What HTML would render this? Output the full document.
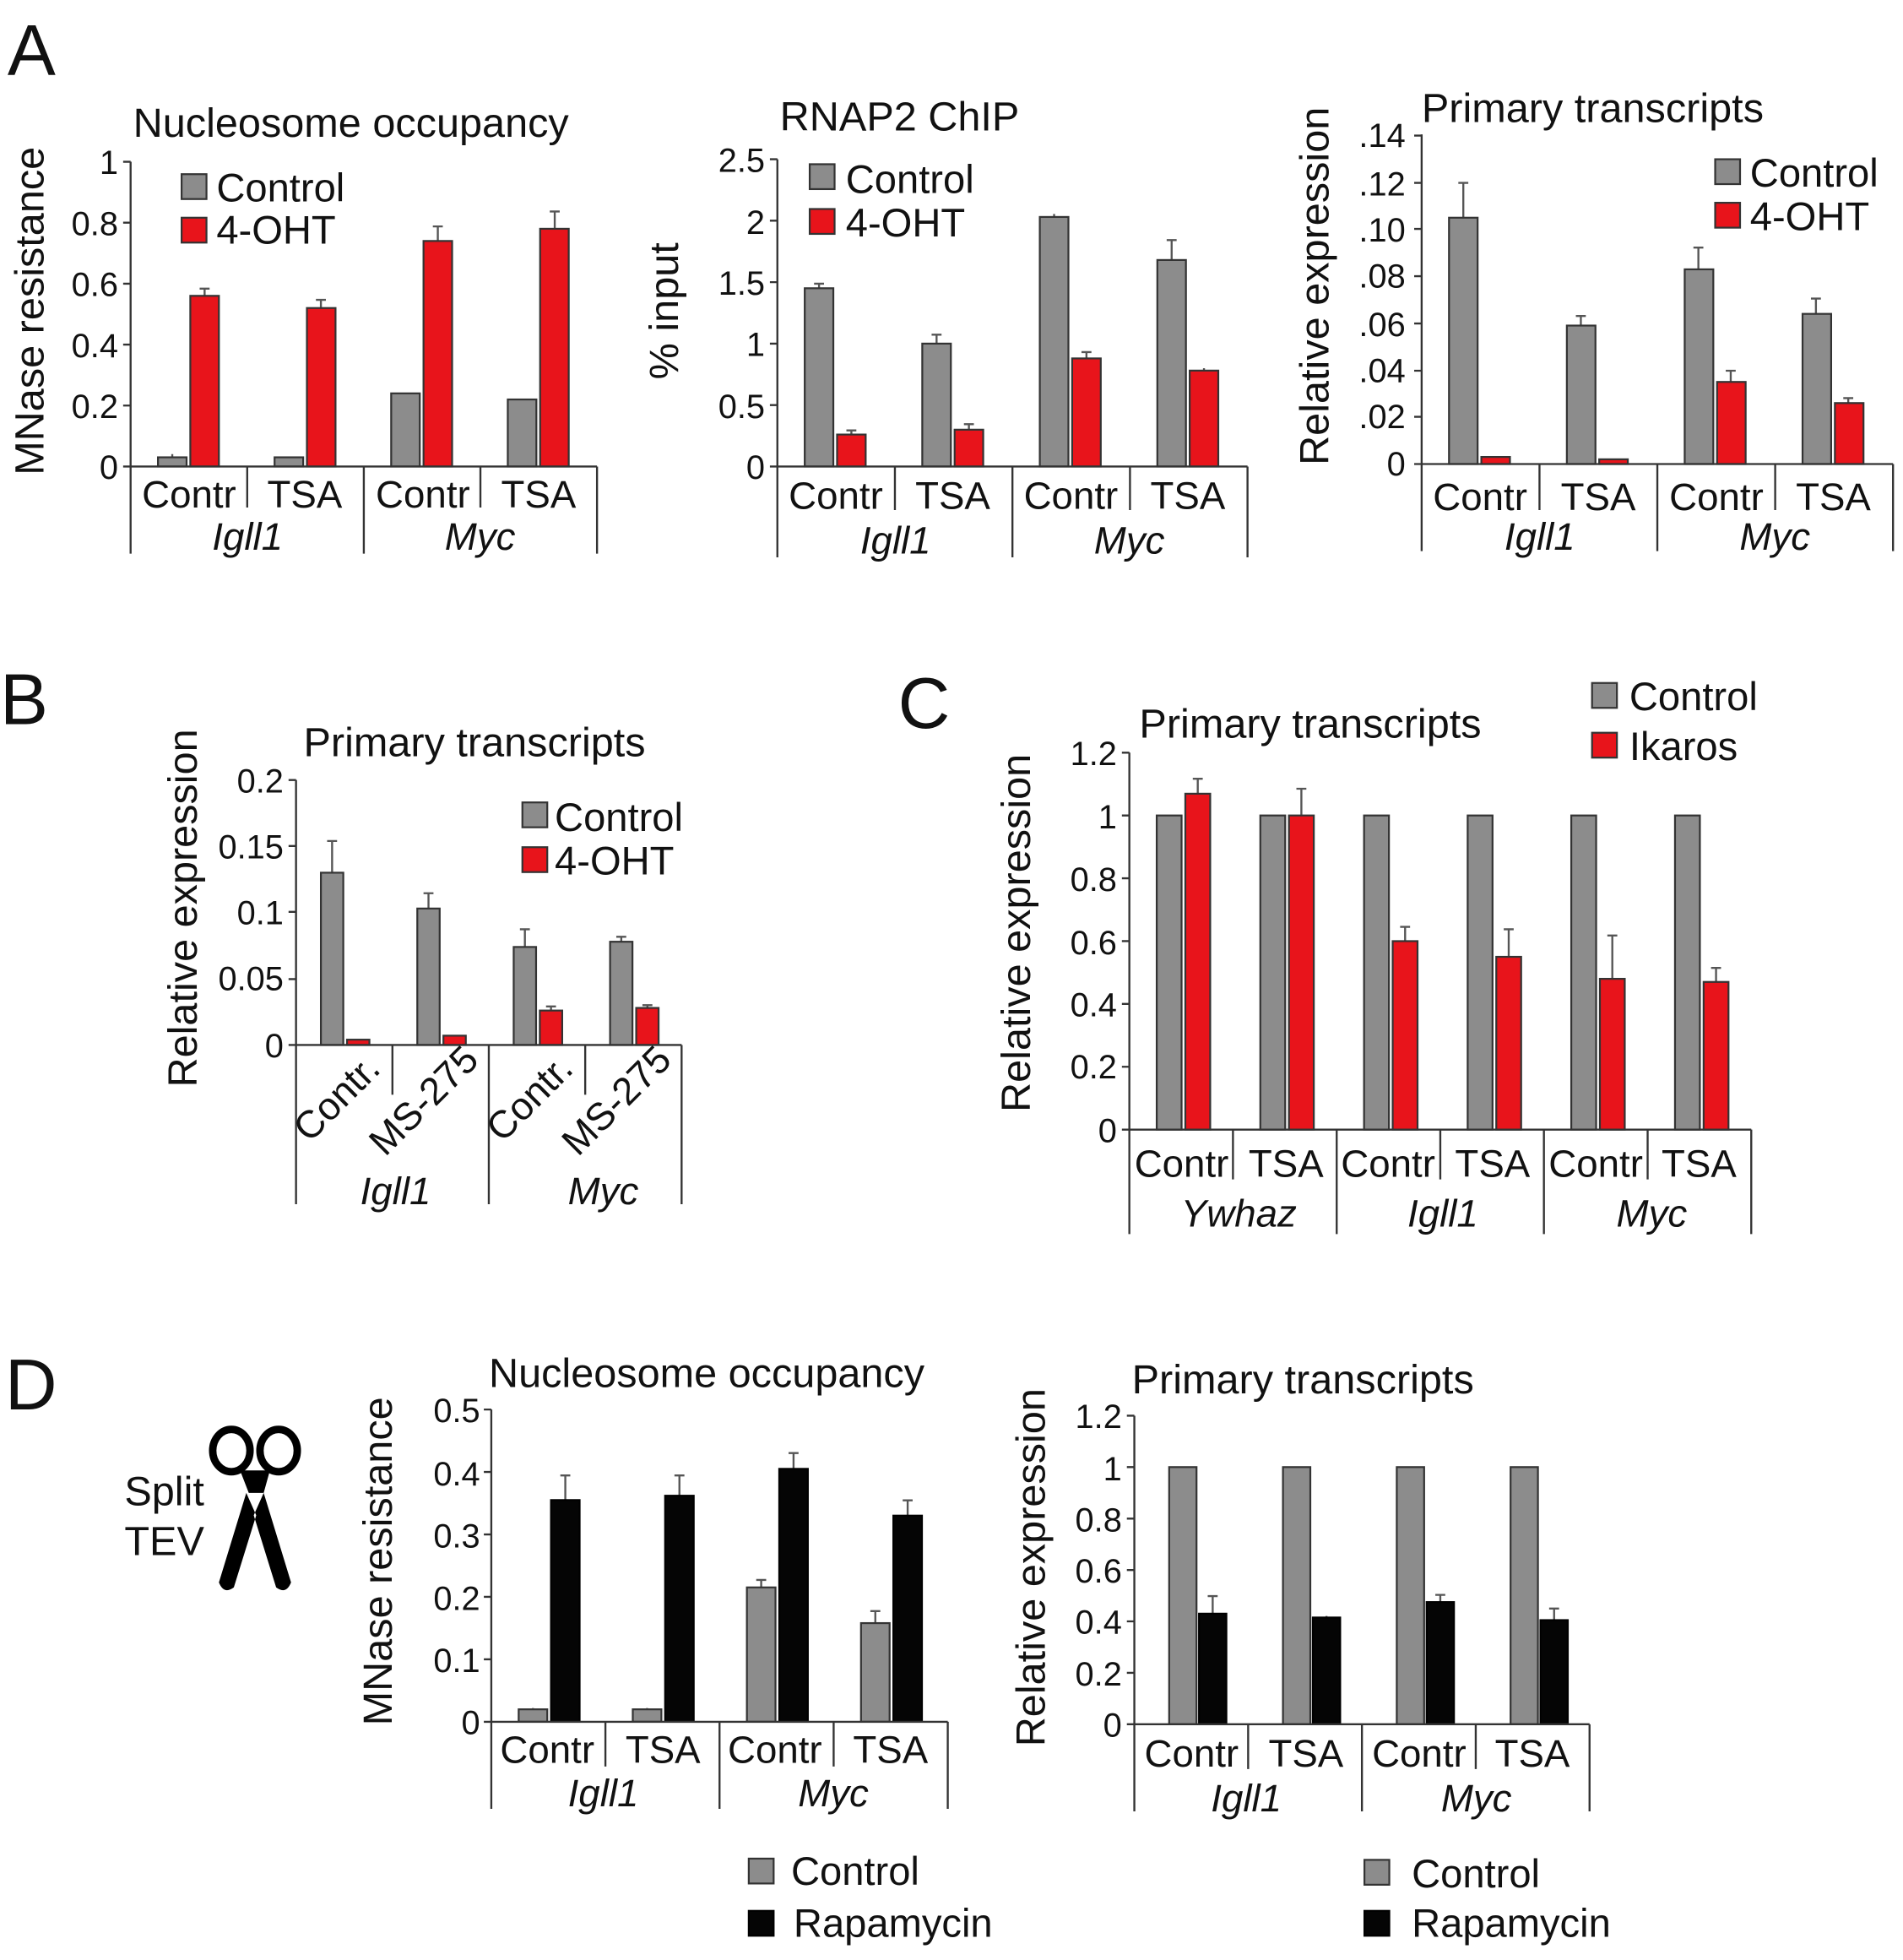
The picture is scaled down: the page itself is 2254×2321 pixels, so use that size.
<!DOCTYPE html>
<html><head><meta charset="utf-8"><style>
html,body{margin:0;padding:0;background:#fff}
svg{display:block}
text{font-family:"Liberation Sans",sans-serif;fill:#111}
.t{font-size:27px;text-anchor:end}
.c{font-size:31px;text-anchor:middle}
.g{font-size:31px;text-anchor:middle;font-style:italic}
.ti{font-size:33px}
.lg{font-size:32px}
.yl{font-size:33px;text-anchor:middle}
.gr{fill:#8c8c8c;stroke:#333;stroke-width:1.5}
.rd{fill:#e8141b;stroke:#333;stroke-width:1.5}
.bk{fill:#050505;stroke:#000;stroke-width:1.5}
.ax{stroke:#333;stroke-width:1.6;fill:none}
.eb{stroke:#555;stroke-width:1.6;fill:none}
</style></head><body>
<svg width="2254" height="2321" viewBox="0 0 1530 1575.5" xmlns="http://www.w3.org/2000/svg">
<text x="6" y="60" style="font-size:58px">A</text>
<text x="0" y="582" style="font-size:58px">B</text>
<text x="722" y="585" style="font-size:58px">C</text>
<text x="4" y="1133" style="font-size:58px">D</text>

<!-- A1 -->
<text class="ti" x="107" y="110">Nucleosome occupancy</text>
<text class="yl" transform="translate(35,250) rotate(-90)">MNase resistance</text>
<g class="t"><text x="95" y="140">1</text><text x="95" y="189">0.8</text><text x="95" y="238">0.6</text><text x="95" y="287">0.4</text><text x="95" y="336">0.2</text><text x="95" y="385">0</text></g>
<rect class="gr" x="146" y="140" width="20" height="20"/><text class="lg" x="174" y="162">Control</text>
<rect class="rd" x="146" y="175" width="20" height="20"/><text class="lg" x="174" y="196">4-OHT</text>
<g transform="translate(105,375)">
<path class="eb" d="M33.5,-7v-3M160,-59v-7m-4,0h8M254,-54v-6m-4,0h8M59.5,-137v-6m-4,0h8M153,-127v-7m-4,0h8M247,-181v-12m-4,0h8M341,-191v-14m-4,0h8"/>
<rect class="gr" x="22" y="-7.4" width="23" height="7.4"/><rect class="rd" x="48" y="-137.2" width="23" height="137.2"/>
<rect class="gr" x="115.75" y="-7.4" width="23" height="7.4"/><rect class="rd" x="141.75" y="-127.4" width="23" height="127.4"/>
<rect class="gr" x="209.5" y="-58.8" width="23" height="58.8"/><rect class="rd" x="235.5" y="-181.3" width="23" height="181.3"/>
<rect class="gr" x="303.25" y="-53.9" width="23" height="53.9"/><rect class="rd" x="329.25" y="-191.1" width="23" height="191.1"/>
<path class="ax" d="M0,-245V70M0,0H375M0,-245h-6M0,-196h-6M0,-147h-6M0,-98h-6M0,-49h-6M0,0h-6M93.75,0v33M187.5,0v70M281.25,0v33M375,0v70"/>
<text class="c" x="47" y="33">Contr</text><text class="c" x="140" y="33">TSA</text><text class="c" x="235" y="33">Contr</text><text class="c" x="328" y="33">TSA</text>
<text class="g" x="94" y="67">Igll1</text><text class="g" x="281" y="67">Myc</text>
</g>

<!-- A2 -->
<text class="ti" x="627" y="105">RNAP2 ChIP</text>
<text class="yl" transform="translate(545,250) rotate(-90)">% input</text>
<g class="t"><text x="615" y="138">2.5</text><text x="615" y="188">2</text><text x="615" y="237">1.5</text><text x="615" y="286">1</text><text x="615" y="336">0.5</text><text x="615" y="385">0</text></g>
<rect class="gr" x="651" y="132" width="20" height="20"/><text class="lg" x="680" y="155">Control</text>
<rect class="rd" x="651" y="168" width="20" height="20"/><text class="lg" x="680" y="190">4-OHT</text>
<g transform="translate(625,375)">
<path class="eb" d="M33.5,-143v-4m-4,0h8M128,-99v-7m-4,0h8M222.5,-201v-2M317,-166v-16m-4,0h8M59.5,-26v-3m-4,0h8M154,-30v-4m-4,0h8M248.5,-87v-5m-4,0h8M343,-77v-2"/>
<rect class="gr" x="22" y="-143.3" width="23" height="143.3"/><rect class="rd" x="48" y="-25.7" width="23" height="25.7"/>
<rect class="gr" x="116.5" y="-98.8" width="23" height="98.8"/><rect class="rd" x="142.5" y="-29.6" width="23" height="29.6"/>
<rect class="gr" x="211" y="-200.6" width="23" height="200.6"/><rect class="rd" x="237" y="-86.9" width="23" height="86.9"/>
<rect class="gr" x="305.5" y="-166" width="23" height="166"/><rect class="rd" x="331.5" y="-77.1" width="23" height="77.1"/>
<path class="ax" d="M0,-247V73M0,0H378M0,-247h-6M0,-197.6h-6M0,-148.2h-6M0,-98.8h-6M0,-49.4h-6M0,0h-6M94.5,0v35M189,0v73M283.5,0v35M378,0v73"/>
<text class="c" x="47" y="34">Contr</text><text class="c" x="141" y="34">TSA</text><text class="c" x="236" y="34">Contr</text><text class="c" x="330" y="34">TSA</text>
<text class="g" x="95" y="70">Igll1</text><text class="g" x="283" y="70">Myc</text>
</g>

<!-- A3 -->
<text class="ti" x="1143" y="98">Primary transcripts</text>
<text class="yl" transform="translate(1068,230) rotate(-90)">Relative expression</text>
<g class="t"><text x="1130" y="118">.14</text><text x="1130" y="157">.12</text><text x="1130" y="194">.10</text><text x="1130" y="231">.08</text><text x="1130" y="270">.06</text><text x="1130" y="307">.04</text><text x="1130" y="344">.02</text><text x="1130" y="382">0</text></g>
<rect class="gr" x="1379" y="128" width="20" height="20"/><text class="lg" x="1407" y="150">Control</text>
<rect class="rd" x="1379" y="163" width="20" height="20"/><text class="lg" x="1407" y="185">4-OHT</text>
<g transform="translate(1143,373)">
<path class="eb" d="M33.5,-198v-28m-4,0h8M128,-111v-8m-4,0h8M222.5,-156v-18m-4,0h8M317,-121v-12m-4,0h8M248.5,-66v-9m-4,0h8M343,-49v-4m-4,0h8"/>
<rect class="gr" x="22" y="-198" width="23" height="198"/><rect class="rd" x="48" y="-5.7" width="23" height="5.7"/>
<rect class="gr" x="116.75" y="-111.3" width="23" height="111.3"/><rect class="rd" x="142.75" y="-3.8" width="23" height="3.8"/>
<rect class="gr" x="211.5" y="-156.5" width="23" height="156.5"/><rect class="rd" x="237.5" y="-66" width="23" height="66"/>
<rect class="gr" x="306.25" y="-120.7" width="23" height="120.7"/><rect class="rd" x="332.25" y="-49" width="23" height="49"/>
<path class="ax" d="M0,-265V70M0,0H379M0,-264h-6M0,-226h-6M0,-189h-6M0,-151h-6M0,-113h-6M0,-75h-6M0,-38h-6M0,0h-6M94.75,0v37M189.5,0v70M284.25,0v37M379,0v70"/>
<text class="c" x="47" y="37">Contr</text><text class="c" x="142" y="37">TSA</text><text class="c" x="237" y="37">Contr</text><text class="c" x="331" y="37">TSA</text>
<text class="g" x="95" y="69">Igll1</text><text class="g" x="284" y="69">Myc</text>
</g>

<!-- B -->
<text class="ti" x="244" y="608">Primary transcripts</text>
<text class="yl" transform="translate(158,730) rotate(-90)">Relative expression</text>
<g class="t"><text x="228" y="637">0.2</text><text x="228" y="690">0.15</text><text x="228" y="743">0.1</text><text x="228" y="796">0.05</text><text x="228" y="850">0</text></g>
<rect class="gr" x="420" y="645" width="20" height="20"/><text class="lg" x="446" y="668">Control</text>
<rect class="rd" x="420" y="681" width="20" height="20"/><text class="lg" x="446" y="703">4-OHT</text>
<g transform="translate(238,840)">
<path class="eb" d="M29,-138v-26m-4,0h8M106.5,-110v-12m-4,0h8M184,-79v-14m-4,0h8M261.5,-83v-4m-4,0h8M205,-28v-3m-4,0h8M282.5,-30v-2m-4,0h8"/>
<rect class="gr" x="20" y="-138.5" width="18" height="138.5"/><rect class="rd" x="41" y="-4.3" width="18" height="4.3"/>
<rect class="gr" x="97.5" y="-109.7" width="18" height="109.7"/><rect class="rd" x="118.5" y="-7.5" width="18" height="7.5"/>
<rect class="gr" x="175" y="-78.8" width="18" height="78.8"/><rect class="rd" x="196" y="-27.7" width="18" height="27.7"/>
<rect class="gr" x="252.5" y="-83" width="18" height="83"/><rect class="rd" x="273.5" y="-29.8" width="18" height="29.8"/>
<path class="ax" d="M0,-213V128M0,0H310M0,-213h-6M0,-160h-6M0,-107h-6M0,-53h-6M0,0h-6M77.5,0v40M155,0v128M232.5,0v40M310,0v128"/>
<text class="c" transform="translate(40,50) rotate(-45)">Contr.</text>
<text class="c" transform="translate(110,52) rotate(-45)">MS-275</text>
<text class="c" transform="translate(195,50) rotate(-45)">Contr.</text>
<text class="c" transform="translate(265,52) rotate(-45)">MS-275</text>
<text class="g" x="80" y="128">Igll1</text><text class="g" x="247" y="128">Myc</text>
</g>

<!-- C -->
<text class="ti" x="916" y="593">Primary transcripts</text>
<text class="yl" transform="translate(828,750) rotate(-90)">Relative expression</text>
<g class="t"><text x="898" y="615">1.2</text><text x="898" y="666">1</text><text x="898" y="716">0.8</text><text x="898" y="767">0.6</text><text x="898" y="817">0.4</text><text x="898" y="867">0.2</text><text x="898" y="918">0</text></g>
<rect class="gr" x="1280" y="549" width="20" height="20"/><text class="lg" x="1310" y="571">Control</text>
<rect class="rd" x="1280" y="589" width="20" height="20"/><text class="lg" x="1310" y="611">Ikaros</text>
<g transform="translate(908,908)">
<path class="eb" d="M55,-270v-12m-4,0h8M138.3,-253v-21m-4,0h8M221.7,-151v-12m-4,0h8M305,-139v-22m-4,0h8M388.3,-121v-35m-4,0h8M471.7,-119v-11m-4,0h8"/>
<rect class="gr" x="22" y="-252.5" width="20" height="252.5"/><rect class="rd" x="45" y="-270" width="20" height="270"/>
<rect class="gr" x="105.3" y="-252.5" width="20" height="252.5"/><rect class="rd" x="128.3" y="-252.5" width="20" height="252.5"/>
<rect class="gr" x="188.7" y="-252.5" width="20" height="252.5"/><rect class="rd" x="211.7" y="-151.5" width="20" height="151.5"/>
<rect class="gr" x="272" y="-252.5" width="20" height="252.5"/><rect class="rd" x="295" y="-138.9" width="20" height="138.9"/>
<rect class="gr" x="355.3" y="-252.5" width="20" height="252.5"/><rect class="rd" x="378.3" y="-121.2" width="20" height="121.2"/>
<rect class="gr" x="438.7" y="-252.5" width="20" height="252.5"/><rect class="rd" x="461.7" y="-118.7" width="20" height="118.7"/>
<path class="ax" d="M0,-303V84M0,0H500M0,-303h-6M0,-252.5h-6M0,-202h-6M0,-151.5h-6M0,-101h-6M0,-50.5h-6M0,0h-6M83.3,0v40M166.7,0v84M250,0v40M333.3,0v84M416.7,0v40M500,0v84"/>
<text class="c" x="42" y="38">Contr</text><text class="c" x="126" y="38">TSA</text><text class="c" x="208" y="38">Contr</text><text class="c" x="292" y="38">TSA</text><text class="c" x="375" y="38">Contr</text><text class="c" x="458" y="38">TSA</text>
<text class="g" x="88" y="78">Ywhaz</text><text class="g" x="252" y="78">Igll1</text><text class="g" x="420" y="78">Myc</text>
</g>

<!-- D scissors -->
<text class="ti" x="100" y="1210">Split</text>
<text class="ti" x="100" y="1250">TEV</text>
<g stroke="#000" fill="none" stroke-width="6">
<ellipse cx="186" cy="1166" rx="15" ry="17"/><ellipse cx="224" cy="1166" rx="15" ry="17"/>
</g>
<path d="M193,1182 L200,1200 L212,1200 L217,1182 Z M198,1200 L176,1272 Q180,1282 188,1276 L206,1218 Z M212,1200 L234,1272 Q230,1282 222,1276 L204,1218 Z" fill="#000"/>

<!-- D1 -->
<text class="ti" x="393" y="1115">Nucleosome occupancy</text>
<text class="yl" transform="translate(315,1255) rotate(-90)">MNase resistance</text>
<g class="t"><text x="386" y="1143">0.5</text><text x="386" y="1194">0.4</text><text x="386" y="1244">0.3</text><text x="386" y="1294">0.2</text><text x="386" y="1344">0.1</text><text x="386" y="1394">0</text></g>
<g transform="translate(395,1384)">
<path class="eb" d="M33.5,-10v-1M125.25,-10v-1M217,-108v-6m-4,0h8M308.75,-79v-10m-4,0h8M59.5,-178v-20m-4,0h8M151.25,-182v-16m-4,0h8M243,-203v-13m-4,0h8M334.75,-166v-12m-4,0h8"/>
<rect class="gr" x="22" y="-10" width="23" height="10"/><rect class="bk" x="48" y="-178.2" width="23" height="178.2"/>
<rect class="gr" x="113.75" y="-10" width="23" height="10"/><rect class="bk" x="139.75" y="-181.7" width="23" height="181.7"/>
<rect class="gr" x="205.5" y="-108" width="23" height="108"/><rect class="bk" x="231.5" y="-203.3" width="23" height="203.3"/>
<rect class="gr" x="297.25" y="-79.3" width="23" height="79.3"/><rect class="bk" x="323.25" y="-165.7" width="23" height="165.7"/>
<path class="ax" d="M0,-251V70M0,0H367M0,-251h-6M0,-200.8h-6M0,-150.6h-6M0,-100.4h-6M0,-50.2h-6M0,0h-6M91.75,0v36M183.5,0v70M275.25,0v36M367,0v70"/>
<text class="c" x="45" y="33">Contr</text><text class="c" x="138" y="33">TSA</text><text class="c" x="228" y="33">Contr</text><text class="c" x="321" y="33">TSA</text>
<text class="g" x="90" y="68">Igll1</text><text class="g" x="275" y="68">Myc</text>
</g>
<rect class="gr" x="602" y="1494" width="20" height="20"/><text class="lg" x="636" y="1515">Control</text>
<rect class="bk" x="602" y="1536" width="20" height="20"/><text class="lg" x="638" y="1557">Rapamycin</text>

<!-- D2 -->
<text class="ti" x="910" y="1120">Primary transcripts</text>
<text class="yl" transform="translate(840,1260) rotate(-90)">Relative expression</text>
<g class="t"><text x="902" y="1148">1.2</text><text x="902" y="1190">1</text><text x="902" y="1231">0.8</text><text x="902" y="1272">0.6</text><text x="902" y="1313">0.4</text><text x="902" y="1355">0.2</text><text x="902" y="1396">0</text></g>
<g transform="translate(912,1386)">
<path class="eb" d="M63,-89v-14m-4,0h8M154.5,-86v-1M246,-98v-6m-4,0h8M337.5,-84v-9m-4,0h8"/>
<rect class="gr" x="28" y="-206.7" width="22" height="206.7"/><rect class="bk" x="52" y="-88.9" width="22" height="88.9"/>
<rect class="gr" x="119.5" y="-206.7" width="22" height="206.7"/><rect class="bk" x="143.5" y="-85.8" width="22" height="85.8"/>
<rect class="gr" x="211" y="-206.7" width="22" height="206.7"/><rect class="bk" x="235" y="-98.2" width="22" height="98.2"/>
<rect class="gr" x="302.5" y="-206.7" width="22" height="206.7"/><rect class="bk" x="326.5" y="-83.7" width="22" height="83.7"/>
<path class="ax" d="M0,-248V70M0,0H366M0,-248h-6M0,-206.7h-6M0,-165.3h-6M0,-124h-6M0,-82.7h-6M0,-41.3h-6M0,0h-6M91.5,0v36M183,0v70M274.5,0v36M366,0v70"/>
<text class="c" x="46" y="34">Contr</text><text class="c" x="138" y="34">TSA</text><text class="c" x="229" y="34">Contr</text><text class="c" x="320" y="34">TSA</text>
<text class="g" x="90" y="70">Igll1</text><text class="g" x="275" y="70">Myc</text>
</g>
<rect class="gr" x="1097" y="1495" width="20" height="20"/><text class="lg" x="1135" y="1517">Control</text>
<rect class="bk" x="1097" y="1536" width="20" height="20"/><text class="lg" x="1135" y="1557">Rapamycin</text>
</svg>
</body></html>
